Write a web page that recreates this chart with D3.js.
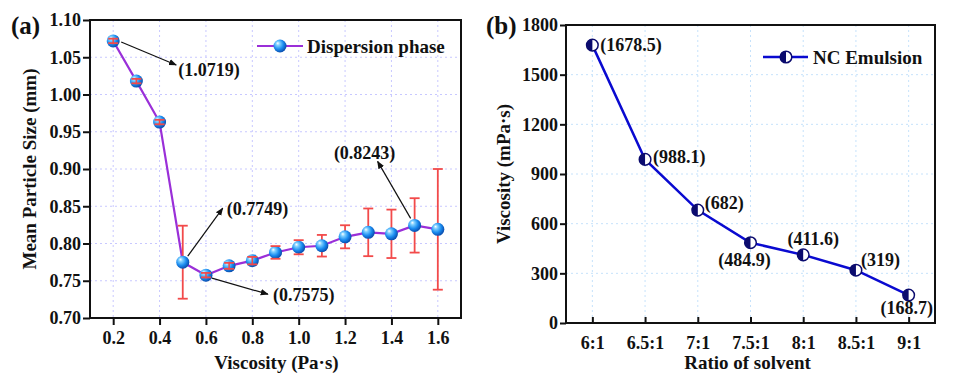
<!DOCTYPE html>
<html>
<head>
<meta charset="utf-8">
<script src="https://cdn.jsdelivr.net/npm/d3@7"></script>
<style>
  body { margin: 0; background: #fff; }
  svg text { font-family: "Liberation Serif", "Times New Roman", serif; font-weight: bold; fill: #111; }
</style>
</head>
<body>
<svg id="fig" width="955" height="377"></svg>
<script>
// panel (a) data
const viscosityA = [0.2, 0.3, 0.4, 0.5, 0.6, 0.7, 0.8, 0.9, 1.0, 1.1, 1.2, 1.3, 1.4, 1.5, 1.6];
const sizeA = [1.0719, 1.018, 0.963, 0.7749, 0.7575, 0.770, 0.777, 0.788, 0.795, 0.797, 0.809, 0.815, 0.813, 0.8243, 0.819];
const errA = [0.003, 0.003, 0.003, 0.049, 0.003, 0.004, 0.005, 0.0085, 0.0095, 0.0145, 0.0155, 0.032, 0.0325, 0.0365, 0.081];
const xTicksA = [0.2, 0.4, 0.6, 0.8, 1.0, 1.2, 1.4, 1.6];
const yTicksA = [0.70, 0.75, 0.80, 0.85, 0.90, 0.95, 1.00, 1.05, 1.10];

// panel (b) data
const ratioB = ["6:1", "6.5:1", "7:1", "7.5:1", "8:1", "8.5:1", "9:1"];
const viscB = [1678.5, 988.1, 682, 484.9, 411.6, 319, 168.7];
const yTicksB = [0, 300, 600, 900, 1200, 1500, 1800];

const svg = d3.select('#fig');
const defs = svg.append('defs');

const grad = defs.append('radialGradient').attr('id', 'ball')
    .attr('cx', '40%').attr('cy', '40%').attr('r', '60%').attr('fx', '32%').attr('fy', '28%');
grad.append('stop').attr('offset', '0%').attr('stop-color', '#ffffff');
grad.append('stop').attr('offset', '25%').attr('stop-color', '#7fd0ff');
grad.append('stop').attr('offset', '65%').attr('stop-color', '#1a8cf0');
grad.append('stop').attr('offset', '100%').attr('stop-color', '#0a4fb0');

defs.append('marker').attr('id', 'arrow')
    .attr('viewBox', '0 0 10 10').attr('refX', 9).attr('refY', 5)
    .attr('markerWidth', 8).attr('markerHeight', 8).attr('markerUnits', 'userSpaceOnUse')
    .attr('orient', 'auto')
  .append('path').attr('d', 'M0,1 L10,5 L0,9 Z').attr('fill', '#111');

// ---------- panel (a) ----------
const boxA = {left: 90, right: 461, top: 20, bottom: 318};
const xA = d3.scaleLinear().domain([0.1, 1.7]).range([boxA.left, boxA.right]);
const yA = d3.scaleLinear().domain([0.70, 1.10]).range([boxA.bottom, boxA.top]);

const gA = svg.append('g');

// grid
gA.selectAll('.vg').data(xTicksA).enter().append('line')
    .attr('x1', d => xA(d)).attr('x2', d => xA(d))
    .attr('y1', boxA.top).attr('y2', boxA.bottom)
    .attr('stroke', '#c8c8ff').attr('stroke-width', 1).attr('stroke-dasharray', '2,3');
gA.selectAll('.hg').data(yTicksA).enter().append('line')
    .attr('x1', boxA.left).attr('x2', boxA.right)
    .attr('y1', d => yA(d)).attr('y2', d => yA(d))
    .attr('stroke', '#c8c8ff').attr('stroke-width', 1).attr('stroke-dasharray', '2,3');

// axes
const axA1 = gA.append('g').attr('transform', 'translate(0,' + boxA.bottom + ')')
    .call(d3.axisBottom(xA).tickValues(xTicksA).tickFormat(d3.format('.1f')).tickSize(7).tickSizeOuter(0));
const axA2 = gA.append('g').attr('transform', 'translate(' + boxA.left + ',0)')
    .call(d3.axisLeft(yA).tickValues(yTicksA).tickFormat(d3.format('.2f')).tickSize(7).tickSizeOuter(0));
[axA1, axA2].forEach(a => {
  a.select('.domain').remove();
  a.selectAll('line').attr('stroke', '#111').attr('stroke-width', 2);
  a.selectAll('text').style('font-size', '18px').attr('fill', '#111');
});
axA1.selectAll('text').attr('dy', '0.9em').attr('y', 10);
axA2.selectAll('text').attr('x', -9);

gA.append('rect').attr('x', boxA.left).attr('y', boxA.top)
    .attr('width', boxA.right - boxA.left).attr('height', boxA.bottom - boxA.top)
    .attr('fill', 'none').attr('stroke', '#111').attr('stroke-width', 2);

// line
const lineA = d3.line().x((d, i) => xA(viscosityA[i])).y(d => yA(d));
gA.append('path').datum(sizeA).attr('d', lineA)
    .attr('fill', 'none').attr('stroke', '#9a2fd8').attr('stroke-width', 2.2);

// error bars (stems)
gA.selectAll('.eb').data(sizeA).enter().append('line')
    .attr('x1', (d, i) => xA(viscosityA[i])).attr('x2', (d, i) => xA(viscosityA[i]))
    .attr('y1', (d, i) => yA(d - errA[i])).attr('y2', (d, i) => yA(d + errA[i]))
    .attr('stroke', '#f24a4a').attr('stroke-width', 1.8);

// markers
gA.selectAll('.pt').data(sizeA).enter().append('circle')
    .attr('cx', (d, i) => xA(viscosityA[i])).attr('cy', d => yA(d)).attr('r', 6.5)
    .attr('fill', 'url(#ball)');

// caps
const caps = [];
sizeA.forEach((d, i) => { caps.push([viscosityA[i], d - errA[i]]); caps.push([viscosityA[i], d + errA[i]]); });
gA.selectAll('.cap').data(caps).enter().append('line')
    .attr('x1', d => xA(d[0]) - 5).attr('x2', d => xA(d[0]) + 5)
    .attr('y1', d => yA(d[1])).attr('y2', d => yA(d[1]))
    .attr('stroke', '#f24a4a').attr('stroke-width', 1.8);
// small bars: stems visible over marker
gA.selectAll('.ebs').data(sizeA.filter((d, i) => errA[i] < 0.006)).enter().append('line')
    .attr('x1', d => xA(viscosityA[sizeA.indexOf(d)])).attr('x2', d => xA(viscosityA[sizeA.indexOf(d)]))
    .attr('y1', d => yA(d - errA[sizeA.indexOf(d)]) + 1).attr('y2', d => yA(d + errA[sizeA.indexOf(d)]) - 1)
    .attr('stroke', '#f24a4a').attr('stroke-width', 1.5);

// annotations: point index, arrow start offset, arrow end offset, text offset, anchor
const notesA = [
  {i: 0,  label: '(1.0719)', s: [8, 1],   e: [63, 24],   t: [65, 29],  anchor: 'start'},
  {i: 13, label: '(0.8243)', s: [-4, -7], e: [-37, -64], t: [-50, -72], anchor: 'middle'},
  {i: 3,  label: '(0.7749)', s: [5, -6],  e: [40, -54],  t: [44, -53], anchor: 'start'},
  {i: 4,  label: '(0.7575)', s: [6, 3],   e: [62, 19],   t: [67, 20],  anchor: 'start'}
];
notesA.forEach(n => {
  const px = xA(viscosityA[n.i]), py = yA(sizeA[n.i]);
  gA.append('line').attr('x1', px + n.s[0]).attr('y1', py + n.s[1])
      .attr('x2', px + n.e[0]).attr('y2', py + n.e[1])
      .attr('stroke', '#111').attr('stroke-width', 1.2).attr('marker-end', 'url(#arrow)');
  gA.append('text').attr('x', px + n.t[0]).attr('y', py + n.t[1])
      .attr('dominant-baseline', 'central').attr('text-anchor', n.anchor)
      .style('font-size', '18px').text(n.label);
});

// legend
gA.append('line').attr('x1', 257).attr('x2', 303).attr('y1', 46).attr('y2', 46)
    .attr('stroke', '#9a2fd8').attr('stroke-width', 2.2);
gA.append('circle').attr('cx', 280).attr('cy', 46).attr('r', 6.5).attr('fill', 'url(#ball)');
gA.append('text').attr('x', 307).attr('y', 46).attr('dominant-baseline', 'central')
    .style('font-size', '19px').text('Dispersion phase');

// titles
gA.append('text').attr('x', (boxA.left + boxA.right) / 2 + 1).attr('y', 362)
    .attr('text-anchor', 'middle').attr('dominant-baseline', 'central')
    .style('font-size', '19px').text('Viscosity (Pa·s)');
gA.append('text').attr('transform', 'translate(29,' + (boxA.top + boxA.bottom) / 2 + ') rotate(-90)')
    .attr('text-anchor', 'middle').attr('dominant-baseline', 'central')
    .style('font-size', '19px').text('Mean Particle Size (mm)');
gA.append('text').attr('x', 11).attr('y', 25).attr('dominant-baseline', 'central')
    .style('font-size', '25px').text('(a)');

// ---------- panel (b) ----------
const boxB = {left: 566, right: 935, top: 25, bottom: 323};
const xB = d3.scalePoint().domain(ratioB).range([boxB.left, boxB.right]).padding(0.5);
const yB = d3.scaleLinear().domain([0, 1800]).range([boxB.bottom, boxB.top]);

const gB = svg.append('g');

gB.selectAll('.vg').data(ratioB).enter().append('line')
    .attr('x1', d => xB(d)).attr('x2', d => xB(d))
    .attr('y1', boxB.top).attr('y2', boxB.bottom)
    .attr('stroke', '#c6e2fb').attr('stroke-width', 1).attr('stroke-dasharray', '2,3');
gB.selectAll('.hg').data(yTicksB).enter().append('line')
    .attr('x1', boxB.left).attr('x2', boxB.right)
    .attr('y1', d => yB(d)).attr('y2', d => yB(d))
    .attr('stroke', '#c6e2fb').attr('stroke-width', 1).attr('stroke-dasharray', '2,3');

const axB1 = gB.append('g').attr('transform', 'translate(0,' + boxB.bottom + ')')
    .call(d3.axisBottom(xB).tickSize(-6).tickSizeOuter(0));
const axB2 = gB.append('g').attr('transform', 'translate(' + boxB.left + ',0)')
    .call(d3.axisLeft(yB).tickValues(yTicksB).tickFormat(d3.format('d')).tickSize(6).tickSizeOuter(0));
[axB1, axB2].forEach(a => {
  a.select('.domain').remove();
  a.selectAll('line').attr('stroke', '#111').attr('stroke-width', 2);
  a.selectAll('text').style('font-size', '18px').attr('fill', '#111');
});
axB1.selectAll('text').attr('y', 10).attr('dy', '0.9em');
axB2.selectAll('text').attr('x', -8);

gB.append('rect').attr('x', boxB.left).attr('y', boxB.top)
    .attr('width', boxB.right - boxB.left).attr('height', boxB.bottom - boxB.top)
    .attr('fill', 'none').attr('stroke', '#111').attr('stroke-width', 2);

const lineB = d3.line().x((d, i) => xB(ratioB[i])).y(d => yB(d));
gB.append('path').datum(viscB).attr('d', lineB)
    .attr('fill', 'none').attr('stroke', '#0a0ad0').attr('stroke-width', 2.5);

function halfDot(g, cx, cy) {
  const r = 5.8;
  g.append('circle').attr('cx', cx).attr('cy', cy).attr('r', r)
      .attr('fill', '#fff').attr('stroke', '#0b0b6e').attr('stroke-width', 1.5);
  g.append('path')
      .attr('d', 'M' + cx + ',' + (cy - r) + ' A' + r + ',' + r + ' 0 0,0 ' + cx + ',' + (cy + r) + ' Z')
      .attr('fill', '#0b0b6e');
}
viscB.forEach((d, i) => halfDot(gB, xB(ratioB[i]), yB(d)));

// value labels: offsets from the point
const labOffB = [[8, 0, 'start'], [8, -2, 'start'], [7, -7, 'start'], [-6, 17, 'middle'],
                 [10, -16, 'middle'], [5, -10, 'start'], [-2, 13, 'middle']];
viscB.forEach((d, i) => {
  gB.append('text').attr('x', xB(ratioB[i]) + labOffB[i][0]).attr('y', yB(d) + labOffB[i][1])
      .attr('text-anchor', labOffB[i][2]).attr('dominant-baseline', 'central')
      .style('font-size', '18px').text('(' + d + ')');
});

// legend
gB.append('line').attr('x1', 763).attr('x2', 808).attr('y1', 57).attr('y2', 57)
    .attr('stroke', '#0a0ad0').attr('stroke-width', 2.5);
halfDot(gB, 786, 57);
gB.append('text').attr('x', 813).attr('y', 57).attr('dominant-baseline', 'central')
    .style('font-size', '19px').text('NC Emulsion');

gB.append('text').attr('x', (boxB.left + boxB.right) / 2 - 3).attr('y', 362)
    .attr('text-anchor', 'middle').attr('dominant-baseline', 'central')
    .style('font-size', '19px').text('Ratio of solvent');
gB.append('text').attr('transform', 'translate(503,' + (boxB.top + boxB.bottom) / 2 + ') rotate(-90)')
    .attr('text-anchor', 'middle').attr('dominant-baseline', 'central')
    .style('font-size', '19px').text('Viscosity (mPa·s)');
gB.append('text').attr('x', 486).attr('y', 25).attr('dominant-baseline', 'central')
    .style('font-size', '25px').text('(b)');
</script>
</body>
</html>
